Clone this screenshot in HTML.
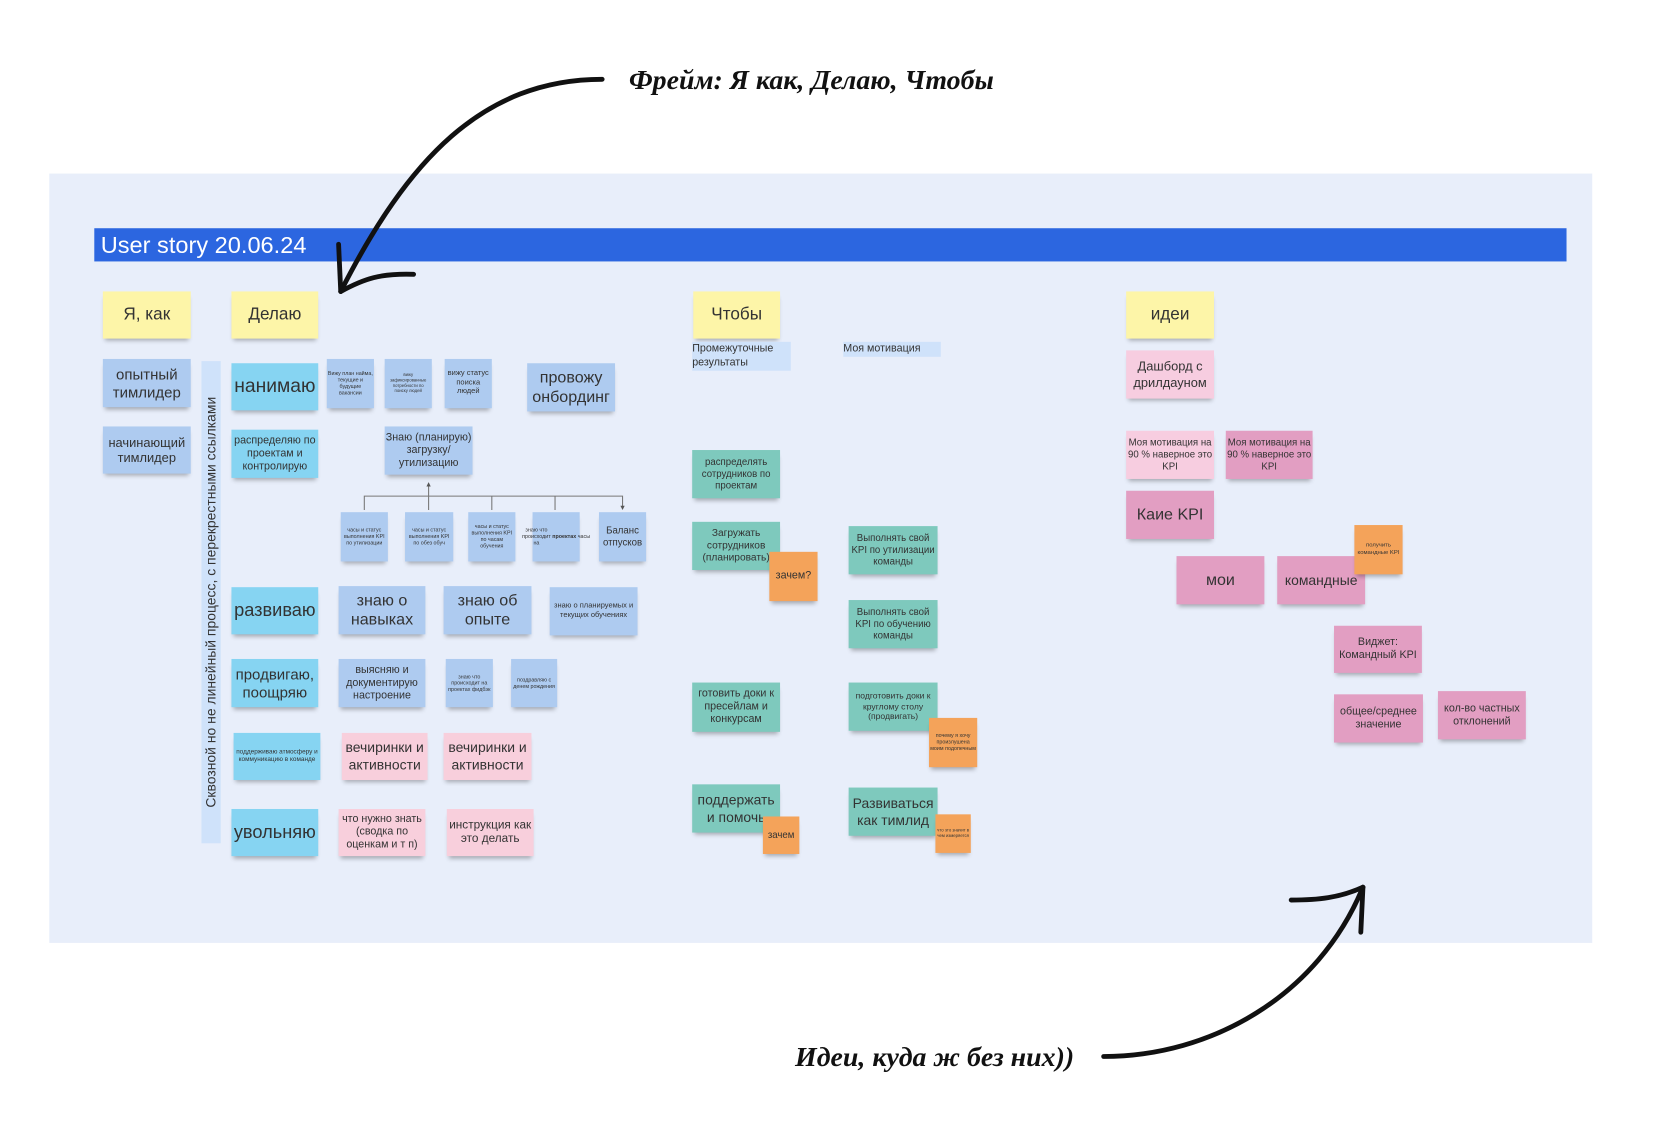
<!DOCTYPE html>
<html><head><meta charset="utf-8"><style>
html,body{margin:0;padding:0;background:#fff;width:1680px;height:1138px;overflow:hidden}
#w{position:absolute;left:0;top:0;width:1560px;height:1057px;transform:scale(1.0715);transform-origin:0 0;font-family:"Liberation Sans","Noto Sans CJK SC",sans-serif;}
.p{position:absolute;background:#e8eefa;left:46px;top:162px;width:1440px;height:718px}
.b{position:absolute;left:88px;top:213px;width:1374px;height:31px;background:#2c66e0;color:#fff;font-size:22px;line-height:32px;padding-left:6px;box-sizing:border-box}
.n{position:absolute;display:flex;align-items:center;justify-content:center;text-align:center;color:#333;box-shadow:0 4px 4px -2px rgba(0,0,0,.3);box-sizing:border-box;padding:1px;line-height:1.2}
.y{background:#fdf5a8}.bl{background:#aecbf0}.c{background:#86d4f2}.pk{background:#f8cfdc}.t{background:#7ec9bd}.o{background:#f4a35a}.lp{background:#f7cde0}.dp{background:#e29ec2}
.hw{position:absolute;font-family:"Liberation Serif",serif;font-style:italic;font-weight:bold;font-size:26px;color:#111}
</style></head><body><div id="w">
<div class="p"></div>
<div class="b">User story 20.06.24</div>
<div class="hw" style="left:587px;top:60px">Фрейм: Я как, Делаю, Чтобы</div>
<div class="hw" style="left:742px;top:972px">Идеи, куда ж без них))</div>
<svg style="position:absolute;left:0;top:0" width="1560" height="1057">
<g fill="none" stroke="#111" stroke-width="4.5" stroke-linecap="round">
<path d="M562 74 C450 74 380 150 318 272"/><path d="M318 272 L316 228"/><path d="M318 272 C340 260 355 255 386 256"/>
<path d="M1030 986 C1130 986 1230 930 1272 828"/><path d="M1272 828 L1270 870"/><path d="M1272 828 C1250 838 1230 840 1205 840"/>
</g>
<g fill="none" stroke="#777" stroke-width="1">
<path d="M400 452V463M340 476V463H581V474M400 463V476M459 463V476M518 463V476"/>
</g>
<path d="M400 450l-2 4h4z M581 476l-2-4h4z" fill="#555"/>
</svg>
<div class="n y" style="left:96px;top:272px;width:82px;height:44px;font-size:16px">Я, как</div>
<div class="n y" style="left:216px;top:272px;width:81px;height:44px;font-size:16px">Делаю</div>
<div class="n bl" style="left:96px;top:335px;width:82px;height:45px;font-size:14px">опытный тимлидер</div>
<div class="n bl" style="left:96px;top:398px;width:82px;height:44px;font-size:12px">начинающий тимлидер</div>
<div style="position:absolute;left:188px;top:337px;width:18px;height:450px;background:#cfe2fa"><div style="position:absolute;left:-216px;top:216px;width:450px;height:18px;transform:rotate(-90deg);font-size:13px;line-height:18px;color:#333;text-align:center;white-space:nowrap">Сквозной но не линейный процесс, с перекрестными ссылками</div></div>
<div class="n c" style="left:216px;top:339px;width:81px;height:44px;font-size:18px">нанимаю</div>
<div class="n bl" style="left:305px;top:335px;width:44px;height:46px;font-size:5px">Вижу план найма, текущие и будущие вакансии</div>
<div class="n bl" style="left:359px;top:335px;width:44px;height:46px;font-size:4px">вижу зафиксированные потребности по поиску людей</div>
<div class="n bl" style="left:415px;top:335px;width:44px;height:46px;font-size:7px">вижу статус поиска людей</div>
<div class="n bl" style="left:492px;top:339px;width:82px;height:45px;font-size:15px">провожу онбординг</div>
<div class="n c" style="left:216px;top:401px;width:81px;height:45px;font-size:10px">распределяю по проектам и контролирую</div>
<div class="n bl" style="left:359px;top:398px;width:82px;height:45px;font-size:10px">Знаю (планирую) загрузку/ утилизацию</div>
<div class="n bl" style="left:318px;top:478px;width:44px;height:46px;font-size:5px">часы и статус выполнения KPI по утилизации</div>
<div class="n bl" style="left:378px;top:478px;width:45px;height:46px;font-size:5px">часы и статус выполнения KPI по обез обуч</div>
<div class="n bl" style="left:437px;top:478px;width:44px;height:46px;font-size:5px">часы и статус выполнения KPI по часам обучения</div>
<div class="n bl" style="left:497px;top:478px;width:44px;height:46px;font-size:5px">знаю что происходит на <b>&nbsp;проектах&nbsp;</b> часы</div>
<div class="n bl" style="left:559px;top:478px;width:44px;height:46px;font-size:9px">Баланс отпусков</div>
<div class="n c" style="left:216px;top:548px;width:81px;height:44px;font-size:17px">развиваю</div>
<div class="n bl" style="left:316px;top:547px;width:81px;height:45px;font-size:15px">знаю о навыках</div>
<div class="n bl" style="left:414px;top:547px;width:82px;height:45px;font-size:15px">знаю об опыте</div>
<div class="n bl" style="left:513px;top:548px;width:82px;height:45px;font-size:7px">знаю о планируемых и текущих обучениях</div>
<div class="n c" style="left:216px;top:615px;width:81px;height:45px;font-size:14px">продвигаю, поощряю</div>
<div class="n bl" style="left:316px;top:615px;width:81px;height:45px;font-size:10px">выясняю и документирую настроение</div>
<div class="n bl" style="left:416px;top:615px;width:44px;height:45px;font-size:5px">знаю что происходит на проектах фидбэк</div>
<div class="n bl" style="left:477px;top:615px;width:43px;height:45px;font-size:5px">поздравляю с денем рождения</div>
<div class="n c" style="left:218px;top:684px;width:81px;height:44px;font-size:6px">поддерживаю атмосферу и коммуникацию в команде</div>
<div class="n pk" style="left:319px;top:684px;width:80px;height:44px;font-size:13px">вечиринки и активности</div>
<div class="n pk" style="left:414px;top:684px;width:82px;height:44px;font-size:13px">вечиринки и активности</div>
<div class="n c" style="left:216px;top:755px;width:81px;height:44px;font-size:17px">увольняю</div>
<div class="n pk" style="left:316px;top:755px;width:81px;height:44px;font-size:10px">что нужно знать (сводка по оценкам и т п)</div>
<div class="n pk" style="left:417px;top:755px;width:81px;height:44px;font-size:11px">инструкция как это делать</div>
<div class="n y" style="left:647px;top:272px;width:81px;height:44px;font-size:16px">Чтобы</div>
<div style="position:absolute;left:646px;top:319px;width:92px;height:27px;background:#cfe2fa;font-size:10px;color:#333;line-height:13px">Промежуточные результаты</div>
<div style="position:absolute;left:787px;top:319px;width:91px;height:14px;background:#cfe2fa;font-size:10px;color:#333;line-height:14px">Моя мотивация</div>
<div class="n t" style="left:646px;top:420px;width:82px;height:45px;font-size:9px">распределять сотрудников по проектам</div>
<div class="n t" style="left:646px;top:487px;width:82px;height:45px;font-size:9.5px">Загружать сотрудников (планировать)</div>
<div class="n o" style="left:718px;top:515px;width:45px;height:46px;font-size:10px">зачем?</div>
<div class="n t" style="left:792px;top:491px;width:83px;height:45px;font-size:9px">Выполнять свой KPI по утилизации команды</div>
<div class="n t" style="left:792px;top:560px;width:83px;height:45px;font-size:9px">Выполнять свой KPI по обучению команды</div>
<div class="n t" style="left:646px;top:637px;width:82px;height:46px;font-size:10px">готовить доки к пресейлам и конкурсам</div>
<div class="n t" style="left:792px;top:637px;width:83px;height:45px;font-size:8px">подготовить доки к круглому столу (продвигать)</div>
<div class="n o" style="left:867px;top:670px;width:45px;height:46px;font-size:5px">почему я хочу произлушена моим подопечным</div>
<div class="n t" style="left:646px;top:732px;width:82px;height:45px;font-size:13px">поддержать и помочь</div>
<div class="n o" style="left:712px;top:762px;width:34px;height:35px;font-size:9px">зачем</div>
<div class="n t" style="left:792px;top:735px;width:83px;height:45px;font-size:13px">Развиваться как тимлид</div>
<div class="n o" style="left:873px;top:760px;width:33px;height:36px;font-size:4px">что это значит в чем измеряется</div>
<div class="n y" style="left:1051px;top:272px;width:82px;height:44px;font-size:16px">идеи</div>
<div class="n lp" style="left:1051px;top:327px;width:82px;height:45px;font-size:12px">Дашборд с дрилдауном</div>
<div class="n lp" style="left:1051px;top:402px;width:82px;height:45px;font-size:9px">Моя мотивация на 90 % наверное это KPI</div>
<div class="n dp" style="left:1144px;top:402px;width:81px;height:45px;font-size:9px">Моя мотивация на 90 % наверное это KPI</div>
<div class="n dp" style="left:1051px;top:458px;width:82px;height:45px;font-size:15px">Каие KPI</div>
<div class="n dp" style="left:1098px;top:519px;width:82px;height:45px;font-size:15px">мои</div>
<div class="n dp" style="left:1192px;top:519px;width:82px;height:45px;font-size:13px">командные</div>
<div class="n o" style="left:1264px;top:490px;width:45px;height:46px;font-size:5.5px">получить командные KPI</div>
<div class="n dp" style="left:1245px;top:584px;width:82px;height:44px;font-size:10px">Виджет: Командный KPI</div>
<div class="n dp" style="left:1245px;top:648px;width:83px;height:45px;font-size:10px">общее/среднее значение</div>
<div class="n dp" style="left:1342px;top:645px;width:82px;height:45px;font-size:10px">кол-во частных отклонений</div>
</div></body></html>
